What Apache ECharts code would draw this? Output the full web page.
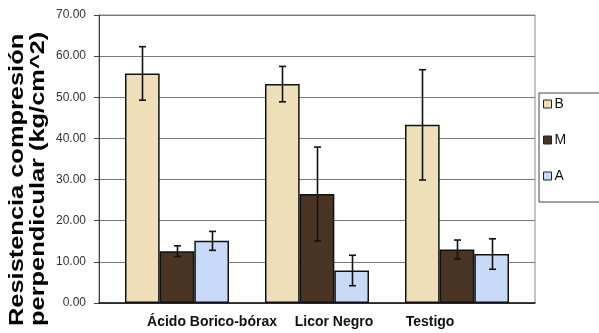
<!DOCTYPE html>
<html>
<head>
<meta charset="utf-8">
<script src="https://cdn.jsdelivr.net/npm/echarts@6/dist/echarts.min.js"></script>
<style>html,body{margin:0;padding:0;background:#fff;}#c{width:599px;height:333px;}</style>
</head>
<body>
<div id="c"></div>
<script>
const categories = ['Ácido Borico-bórax', 'Licor Negro', 'Testigo'];
const seriesNames = ['B', 'M', 'A'];
const valuesB = [55.8, 53.2, 43.3];
const valuesM = [12.6, 26.5, 13.0];
const valuesA = [15.1, 7.9, 11.9];
const errorB = [6.5, 4.3, 13.4];
const errorM = [1.3, 11.4, 2.3];
const errorA = [2.3, 3.7, 3.7];
const yTicks = [0, 10, 20, 30, 40, 50, 60, 70];
const yTitle = 'Resistencia compresión\nperpendicular (kg/cm^2)';

const colors = ['#efdfb9', '#4a3525', '#c9daf8'];
const values = [valuesB, valuesM, valuesA];
const errors = [errorB, errorM, errorA];
const GAP = 0.257;

const labelPads = [[0, 0, 0, 70], [0, 0, 0, 34], [0, 54, 0, 0]];

const chart = echarts.init(document.getElementById('c'), null, {renderer: 'canvas'});

const series = [];
seriesNames.forEach((name, i) => {
  series.push({
    name: name, type: 'bar', xAxisIndex: 1, yAxisIndex: 1,
    data: values[i], barGap: '0%', barCategoryGap: (GAP * 100) + '%',
    itemStyle: {color: colors[i], borderColor: '#111', borderWidth: 1.5},
    emphasis: {disabled: true}, z: 3
  });
});
seriesNames.forEach((name, i) => {
  series.push({
    name: 'err' + name, type: 'custom', xAxisIndex: 1, yAxisIndex: 1, z: 5,
    data: values[i].map((v, k) => [k, v, errors[i][k]]),
    renderItem: function (params, api) {
      const ci = api.value(0), v = api.value(1), e = api.value(2);
      const catW = api.size([1, 0])[0];
      const bw = catW * (1 - GAP) / 3;
      const off = (i - 1) * bw;
      const t = api.coord([ci, v + e]);
      const b = api.coord([ci, v - e]);
      const x = Math.round(t[0] + off) + 0.5;
      const cap = 3.5;
      const st = {stroke: '#111', lineWidth: 1.6};
      return {type: 'group', children: [
        {type: 'line', shape: {x1: x, y1: t[1], x2: x, y2: b[1]}, style: st},
        {type: 'line', shape: {x1: x - cap, y1: t[1], x2: x + cap, y2: t[1]}, style: st},
        {type: 'line', shape: {x1: x - cap, y1: b[1], x2: x + cap, y2: b[1]}, style: st}
      ]};
    }
  });
});

chart.setOption({
  animation: false,
  backgroundColor: '#fff',
  grid: [
    {left: 99, top: 15, right: 64, bottom: 30, show: true, borderColor: '#888', borderWidth: 1},
    {left: 107, top: 15, right: 72, bottom: 30}
  ],
  xAxis: [
    {type: 'category', gridIndex: 0, data: categories, boundaryGap: true,
      axisLine: {show: true, lineStyle: {color: '#111', width: 1.5}},
      axisTick: {show: false}, axisLabel: {show: false}, splitLine: {show: false}},
    {type: 'category', gridIndex: 1, boundaryGap: true,
      data: categories.map((c, k) => ({value: c, textStyle: {padding: labelPads[k]}})),
      axisLine: {show: false}, axisTick: {show: false},
      axisLabel: {show: true, interval: 0, margin: 12, fontFamily: 'Arial, Liberation Sans', fontWeight: 'bold', fontSize: 14, color: '#111'},
      splitLine: {show: false}}
  ],
  yAxis: [
    {type: 'value', gridIndex: 0, min: yTicks[0], max: yTicks[yTicks.length - 1], interval: 10,
      axisLine: {show: true, lineStyle: {color: '#444', width: 1}},
      axisTick: {show: true, inside: false, length: 5, lineStyle: {color: '#444'}},
      axisLabel: {margin: 13, fontFamily: 'Arial, Liberation Sans', fontSize: 12, color: '#333',
        formatter: v => v.toFixed(2)},
      splitLine: {show: true, lineStyle: {color: '#7a7a7a', width: 1}}},
    {type: 'value', gridIndex: 1, min: yTicks[0], max: yTicks[yTicks.length - 1], interval: 10, show: false}
  ],
  legend: {
    data: seriesNames, orient: 'vertical', left: 539, top: 93,
    itemWidth: 8, itemHeight: 8, itemGap: 22, icon: 'rect',
    padding: [4, 60, 19, 4],
    backgroundColor: '#fff', borderColor: '#444', borderWidth: 1,
    textStyle: {fontFamily: 'Arial, Liberation Sans', fontSize: 14, color: '#111', padding: [0, 0, 0, -2]},
    itemStyle: {borderColor: '#222', borderWidth: 1}
  },
  graphic: [{
    type: 'text', x: 7, y: 326, rotation: Math.PI / 2, scaleX: 1.27, scaleY: 1,
    style: {text: yTitle, font: 'bold 20px Arial, Liberation Sans', fill: '#000', textAlign: 'left', textVerticalAlign: 'top', lineHeight: 21}
  }],
  series: series
});
</script>
</body>
</html>
